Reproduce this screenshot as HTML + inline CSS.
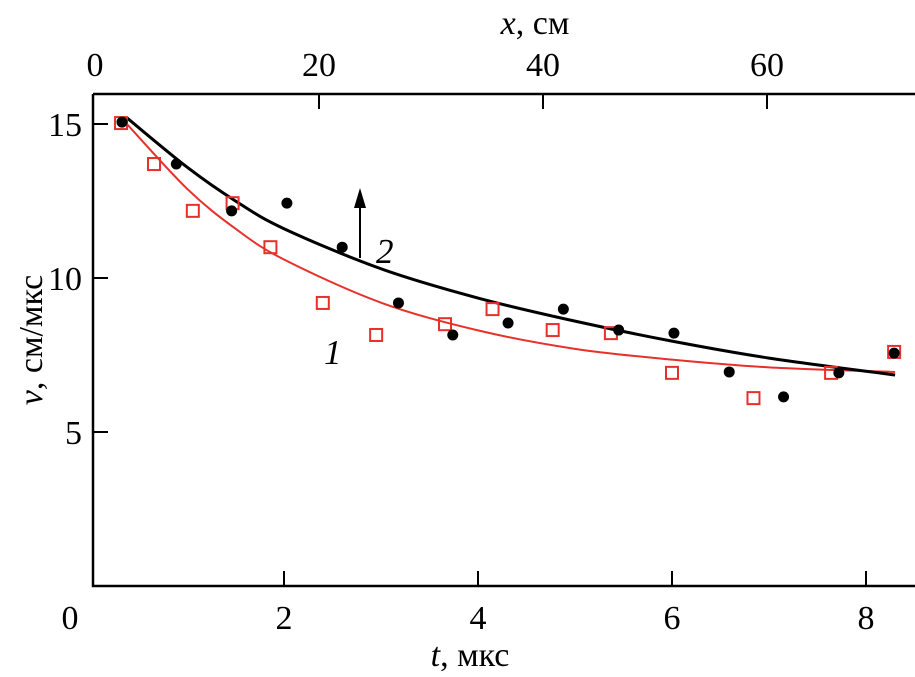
<!DOCTYPE html>
<html><head><meta charset="utf-8"><style>
body{margin:0;background:#fff}
svg{display:block;font-family:"Liberation Serif","DejaVu Serif",serif}
</style></head><body>
<svg id="chart" width="915" height="677" xmlns="http://www.w3.org/2000/svg"></svg>
<script>
const bottomTicks=[0,2,4,6,8];
const topTicks=[0,20,40,60];
const leftTicks=[5,10,15];
const s2t=[0.33,0.89,1.46,2.03,2.6,3.18,3.74,4.31,4.88,5.45,6.02,6.59,7.15,7.72,8.29];
const s2v=[15.06,13.7,12.18,12.43,11.0,9.19,8.15,8.54,8.99,8.31,8.21,6.95,6.14,6.92,7.56];
const s1t=[0.32,0.66,1.06,1.47,1.86,2.4,2.95,3.66,4.15,4.77,5.37,6.0,6.84,7.64,8.29];
const s1v=[15.03,13.7,12.18,12.43,11.0,9.19,8.15,8.5,8.99,8.31,8.21,6.92,6.1,6.92,7.6];
const c2t=[0.38,1,1.5,2,3,4,5,6,7,8.3];
const c2v=[15.2,13.6,12.5,11.6,10.3,9.35,8.6,7.95,7.4,6.85];
const c1t=[0.38,1,1.5,2,3,4,5,6,7,8.3];
const c1v=[15.0,12.9,11.6,10.6,9.2,8.3,7.7,7.35,7.1,6.95];
const NS="http://www.w3.org/2000/svg", svg=document.getElementById('chart');
const X=t=>90+97*t, Y=v=>586-30.8*v, XC=c=>95+11.2*c;
function mk(tag,a,p){const e=document.createElementNS(NS,tag);for(const k in a)e.setAttribute(k,a[k]);(p||svg).appendChild(e);return e;}
let e=mk('path',{d:'M93,94 L915,94 M93,94 L93,586 L915,586',fill:'none',stroke:'#000','stroke-width':2.5});


bottomTicks.forEach(t=>{
 if(t>0){let l=mk('line',{x1:X(t),x2:X(t),y1:586,y2:571,stroke:'#000','stroke-width':2});
 
 }
 let tx=mk('text',{x:t===0?70:X(t),y:629,'font-size':34,'text-anchor':'middle'});tx.textContent=t;
 
 
});
topTicks.forEach(c=>{
 if(c>0){let l=mk('line',{x1:XC(c),x2:XC(c),y1:94,y2:109,stroke:'#000','stroke-width':2});
 
 }
 let tx=mk('text',{x:XC(c),y:76,'font-size':34,'text-anchor':'middle'});tx.textContent=c;
 
 
});
leftTicks.forEach(v=>{
 let l=mk('line',{x1:93,x2:108,y1:Y(v),y2:Y(v),stroke:'#000','stroke-width':2});
 
 
 let tx=mk('text',{x:82,y:Y(v)+12,'font-size':34,'text-anchor':'end'});tx.textContent=v;
 
 
});
function smooth(ts,vs){const p=ts.map((t,i)=>[X(t),Y(vs[i])]);let d='M'+p[0];
 for(let i=0;i<p.length-1;i++){const p0=p[i-1]||p[i],p1=p[i],p2=p[i+1],p3=p[i+2]||p2;
 const c1=[p1[0]+(p2[0]-p0[0])/6,p1[1]+(p2[1]-p0[1])/6],c2=[p2[0]-(p3[0]-p1[0])/6,p2[1]-(p3[1]-p1[1])/6];
 d+=' C'+c1+' '+c2+' '+p2;}return d;}
e=mk('path',{d:smooth(c1t,c1v),fill:'none',stroke:'#e8302a','stroke-width':2});


e=mk('path',{d:smooth(c2t,c2v),fill:'none',stroke:'#000','stroke-width':3});


s1t.forEach((t,i)=>{let r=mk('rect',{x:X(t)-6,y:Y(s1v[i])-6,width:12,height:12,fill:'none',stroke:'#e8302a','stroke-width':2});
 
 });
s2t.forEach((t,i)=>{let c=mk('circle',{cx:X(t),cy:Y(s2v[i]),r:5.5,fill:'#000'});
 
 });
e=mk('path',{d:'M360,258 L360,200',stroke:'#000','stroke-width':2});


e=mk('path',{d:'M360,188 L354,208 L366,208 Z',fill:'#000'});


e=mk('text',{x:376,y:263,'font-size':35,'font-style':'italic'});e.textContent='2';


e=mk('text',{x:324,y:364,'font-size':35,'font-style':'italic'});e.textContent='1';


e=mk('text',{x:535,y:34,'font-size':34,'text-anchor':'middle'});
e.innerHTML='<tspan font-style="italic">x</tspan>, см';


e=mk('text',{x:470,y:666,'font-size':34,'text-anchor':'middle'});
e.innerHTML='<tspan font-style="italic">t</tspan>, мкс';


e=mk('text',{x:0,y:0,'font-size':34,'text-anchor':'middle',transform:'translate(42,340) rotate(-90)'});
e.innerHTML='<tspan font-style="italic">v</tspan>, см/мкс';


</script>
</body></html>
